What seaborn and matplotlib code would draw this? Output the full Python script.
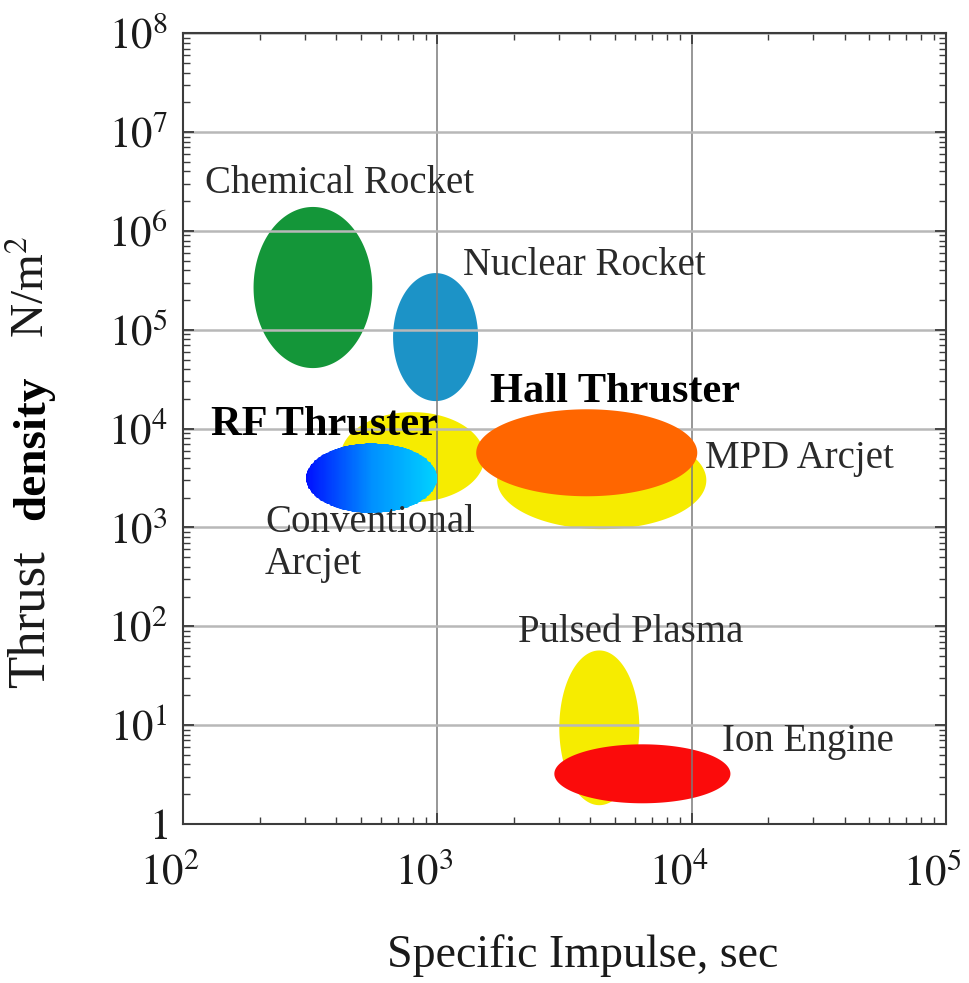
import numpy as np
import pandas as pd
import matplotlib
matplotlib.use("Agg")
import matplotlib.pyplot as plt
import matplotlib.transforms as mtransforms
from matplotlib.patches import Polygon
from matplotlib.colors import LinearSegmentedColormap
import seaborn as sns

# ---------------- data ----------------
thrusters = ["Chemical Rocket", "Nuclear Rocket", "Conventional Arcjet", "MPD Arcjet",
             "Pulsed Plasma", "Ion Engine", "RF Thruster", "Hall Thruster"]
isp_min = [189, 669, 415, 1718, 3017, 2884, 304, 1421]          # sec
isp_max = [554, 1445, 1531, 11430, 6230, 14220, 998, 10530]       # sec
td_min = [4.1e4, 1.9e4, 1.8e3, 962, 1.55, 1.62, 1.4e3, 2.07e3]    # N/m^2
td_max = [1.75e6, 3.75e5, 1.47e4, 9.4e3, 57, 6.4, 7.1e3, 1.57e4]  # N/m^2

x_ticks = [1e2, 1e3, 1e4, 1e5]
x_tick_labels = [r"$10^{2}$", r"$10^{3}$", r"$10^{4}$", r"$10^{5}$"]
y_ticks = [1, 1e1, 1e2, 1e3, 1e4, 1e5, 1e6, 1e7, 1e8]
y_tick_labels = [r"$1$", r"$10^{1}$", r"$10^{2}$", r"$10^{3}$", r"$10^{4}$",
                 r"$10^{5}$", r"$10^{6}$", r"$10^{7}$", r"$10^{8}$"]

df = pd.DataFrame({"name": thrusters, "isp_min": isp_min, "isp_max": isp_max,
                   "td_min": td_min, "td_max": td_max})

# ---------------- style ----------------
sns.set_theme(style="white")
plt.rcParams["font.family"] = ["Liberation Serif", "DejaVu Serif"]
plt.rcParams["mathtext.fontset"] = "stix"

colors = {"Chemical Rocket": "#149639", "Nuclear Rocket": "#1c93c7",
          "Conventional Arcjet": "#f6ec00", "MPD Arcjet": "#f6ec00",
          "Pulsed Plasma": "#f6ec00", "Ion Engine": "#fb0b0b",
          "Hall Thruster": "#ff6600"}

fig = plt.figure(figsize=(9.7, 9.83), dpi=100)
ax = fig.add_axes([183.3 / 970, 1 - 824 / 983, (945.7 - 183.3) / 970, (824 - 33.3) / 983])
ax.set_xscale("log")
ax.set_yscale("log")
ax.set_xlim(1e2, 1e5)
ax.set_ylim(1, 1e8)
ax.set_facecolor("white")


def ellipse_points(r, n=240):
    lx0, lx1 = np.log10(r.isp_min), np.log10(r.isp_max)
    ly0, ly1 = np.log10(r.td_min), np.log10(r.td_max)
    t = np.linspace(0, 2 * np.pi, n)
    lx = (lx0 + lx1) / 2 + (lx1 - lx0) / 2 * np.cos(t)
    ly = (ly0 + ly1) / 2 + (ly1 - ly0) / 2 * np.sin(t)
    return 10 ** lx, 10 ** ly


for _, r in df.iterrows():
    xs, ys = ellipse_points(r)
    if r["name"] == "RF Thruster":
        poly = Polygon(np.column_stack([xs, ys]), closed=True, transform=ax.transData,
                       facecolor="none", edgecolor="none")
        ax.add_patch(poly)
        gx = np.logspace(np.log10(r.isp_min), np.log10(r.isp_max), 120)
        gy = np.array([r.td_min, r.td_max])
        C = np.linspace(0, 1, 119)[None, :]
        cmap = LinearSegmentedColormap.from_list("rf", ["#0010ff", "#0090ff", "#00d2ff"])
        mesh = ax.pcolormesh(gx, gy, C, cmap=cmap, shading="flat", zorder=3)
        mesh.set_clip_path(poly)
    else:
        z = 3 if r["name"] == "Hall Thruster" else 1
        ax.fill(xs, ys, color=colors[r["name"]], lw=0, zorder=z)

# grid
ax.set_axisbelow("line")
ax.set_xticks(x_ticks, x_tick_labels)
ax.set_yticks(y_ticks, y_tick_labels)
ax.grid(True, which="major", axis="y", color="#b8b8b8", lw=1.8)
ax.grid(True, which="major", axis="x", color="#7a7a7a", lw=1.1)

for s in ax.spines.values():
    s.set_color("#3c3c3c")
    s.set_linewidth(1.5)
ax.tick_params(which="both", direction="in", top=True, right=True, bottom=True, left=True,
               color="#3c3c3c")
ax.tick_params(which="major", length=8, width=1.3)
ax.tick_params(which="minor", length=5, width=1.0)
ax.tick_params(axis="x", which="major", labelsize=31, pad=21, labelcolor="#1a1a1a")
ax.tick_params(axis="y", which="major", labelsize=31, pad=11, labelcolor="#1a1a1a")
off = mtransforms.ScaledTranslation(-0.13, 0, fig.dpi_scale_trans)
for lab in ax.get_xticklabels():
    lab.set_transform(lab.get_transform() + off)

# labels on regions
lab_col = "#2a2a2a"
fs = 28
ax.text(121.7, 3.05e6, "Chemical Rocket", fontsize=fs, color=lab_col, ha="left", va="center", zorder=5)
ax.text(1261, 4.52e5, "Nuclear Rocket", fontsize=fs, color=lab_col, ha="left", va="center", zorder=5)
ax.text(1610, 2.34e4, "Hall Thruster", fontsize=30.5, fontweight="bold", color="black",
        ha="left", va="center", zorder=5)
ax.text(128.8, 1.08e4, "RF Thruster", fontsize=30.5, fontweight="bold", color="black",
        ha="left", va="center", zorder=5)
ax.text(11300, 5035, "MPD Arcjet", fontsize=fs, color=lab_col, ha="left", va="center", zorder=5)
ax.text(209.7, 690, "Conventional\nArcjet", fontsize=fs, color=lab_col, ha="left", va="center",
        linespacing=1.2, zorder=5)
ax.text(2076, 87, "Pulsed Plasma", fontsize=fs, color=lab_col, ha="left", va="center", zorder=5)
ax.text(13180, 6.87, "Ion Engine", fontsize=fs, color=lab_col, ha="left", va="center", zorder=5)

# axis labels
fig.text(583 / 970, 1 - 956 / 983, "Specific Impulse, sec", fontsize=33, color="#1a1a1a",
         ha="center", va="center")
ylab_x = 44 / 970
fig.text(ylab_x, 1 - 619.5 / 983, "Thrust", fontsize=38, color="#1a1a1a", rotation=90,
         rotation_mode="anchor", ha="center", va="baseline")
fig.text(ylab_x, 1 - 448 / 983, "density", fontsize=34, fontweight="bold", color="black",
         rotation=90, rotation_mode="anchor", ha="center", va="baseline")
fig.text(ylab_x, 1 - 287 / 983, r"N/m$^{2}$", fontsize=34, color="#1a1a1a", rotation=90,
         rotation_mode="anchor", ha="center", va="baseline")

fig.savefig("out.png", dpi=100, facecolor="white")
